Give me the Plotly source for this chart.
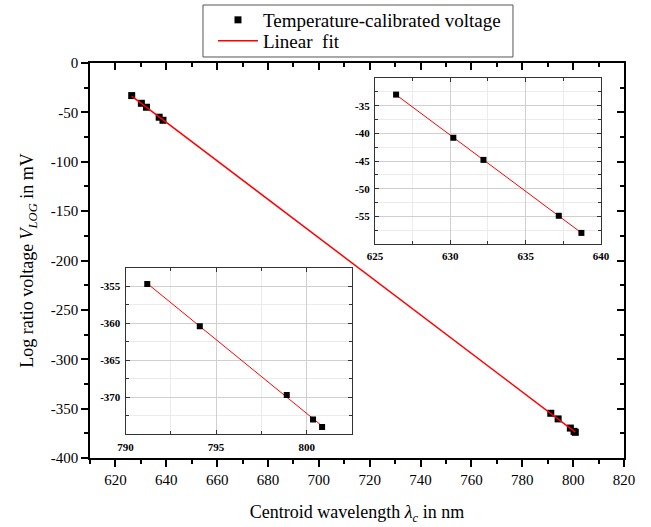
import numpy as np
import plotly.graph_objects as go

# ---------------- data ----------------
wl_red = [626.4, 630.2, 632.2, 637.2, 638.7]
v_red = [-33.0, -40.8, -44.8, -54.9, -58.0]
wl_nir = [791.2, 794.1, 798.9, 800.35, 800.85]
v_nir = [-354.7, -360.4, -369.7, -373.0, -374.0]

main_xticks = [620, 640, 660, 680, 700, 720, 740, 760, 780, 800, 820]
main_yticks = [0, -50, -100, -150, -200, -250, -300, -350, -400]
main_ytext = ["0", "-50", "-100", "-150", "-200", "-250", "-300", "-350", "-400"]
in1_xticks = [625, 630, 635, 640]
in1_yticks = [-35, -40, -45, -50, -55]
in1_ytext = ["-35", "-40", "-45", "-50", "-55"]
in2_xticks = [790, 795, 800]
in2_yticks = [-355, -360, -365, -370]
in2_ytext = ["-355", "-360", "-365", "-370"]

legend_points = "Temperature-calibrated voltage"
legend_fit = "Linear  fit"

# ---------------- fits ----------------
wl_all = np.array(wl_red + wl_nir)
v_all = np.array(v_red + v_nir)
p_all = np.polyfit(wl_all, v_all, 1)
p_red = np.polyfit(wl_red, v_red, 1)
p_nir = np.polyfit(wl_nir, v_nir, 1)
fx_all = np.array([wl_all.min(), wl_all.max()])
fx_red = np.array([min(wl_red), max(wl_red)])
fx_nir = np.array([min(wl_nir), max(wl_nir)])

SERIF = "Liberation Serif, Times New Roman, serif"
RED = "#ff0000"

fig = go.Figure()

# main plot
fig.add_trace(go.Scatter(x=wl_all, y=v_all, mode="markers",
                         marker=dict(symbol="square", size=7, color="black"),
                         name=legend_points, legend="legend",
                         xaxis="x", yaxis="y"))
fig.add_trace(go.Scatter(x=fx_all, y=np.polyval(p_all, fx_all), mode="lines",
                         line=dict(color=RED, width=1.5), name=legend_fit,
                         legend="legend2", xaxis="x", yaxis="y"))

# inset 1
fig.add_trace(go.Scatter(x=fx_red, y=np.polyval(p_red, fx_red), mode="lines",
                         line=dict(color=RED, width=1), showlegend=False,
                         xaxis="x2", yaxis="y2"))
fig.add_trace(go.Scatter(x=wl_red, y=v_red, mode="markers",
                         marker=dict(symbol="square", size=6, color="black"),
                         showlegend=False, xaxis="x2", yaxis="y2"))
# inset 2
fig.add_trace(go.Scatter(x=fx_nir, y=np.polyval(p_nir, fx_nir), mode="lines",
                         line=dict(color=RED, width=1), showlegend=False,
                         xaxis="x3", yaxis="y3"))
fig.add_trace(go.Scatter(x=wl_nir, y=v_nir, mode="markers",
                         marker=dict(symbol="square", size=6, color="black"),
                         showlegend=False, xaxis="x3", yaxis="y3"))

# dummy traces for mirrored inward tick axes
fig.add_trace(go.Scatter(x=[], y=[], showlegend=False, xaxis="x4", yaxis="y"))
fig.add_trace(go.Scatter(x=[], y=[], showlegend=False, xaxis="x", yaxis="y4"))

main_tickfont = dict(family=SERIF, size=15, color="black")
inset_tickfont = dict(family=SERIF, size=11, color="black", weight="bold")

main_x = dict(range=[610, 820], tickvals=main_xticks, ticks="outside", ticklen=7,
              tickwidth=1.5, tickcolor="black", showline=True, linewidth=1.5,
              linecolor="black", mirror=True, showgrid=False, zeroline=False,
              tickfont=main_tickfont,
              minor=dict(dtick=10, tick0=610, ticks="outside", ticklen=4,
                         tickwidth=1.5, tickcolor="black", showgrid=False))
main_y = dict(range=[-400, 0], tickvals=main_yticks, ticktext=main_ytext,
              ticks="outside", ticklen=7, tickwidth=1.5, tickcolor="black",
              showline=True, linewidth=1.5, linecolor="black", mirror=True,
              showgrid=False, zeroline=False, tickfont=main_tickfont,
              minor=dict(dtick=25, tick0=0, ticks="outside", ticklen=4,
                         tickwidth=1.5, tickcolor="black", showgrid=False))

def inset_axis(rng, tickvals, ticktext, dom, anchor, tick0):
    d = dict(range=rng, tickvals=tickvals, domain=dom, anchor=anchor,
             ticks="inside", ticklen=4, tickwidth=1, tickcolor="#333333",
             showline=True, linewidth=1, linecolor="#333333", mirror="ticks",
             showgrid=True, gridcolor="#cfcfcf", gridwidth=1, zeroline=False,
             tickfont=inset_tickfont, ticklabelstandoff=2,
             minor=dict(dtick=2.5, tick0=tick0, ticks="inside", ticklen=3,
                        tickwidth=1, tickcolor="#333333", showgrid=True,
                        gridcolor="#ebebeb", gridwidth=1))
    if ticktext is not None:
        d["ticktext"] = ticktext
    return d

leg_common = dict(xanchor="left", yanchor="top", bgcolor="rgba(0,0,0,0)",
                  borderwidth=0, font=dict(family=SERIF, size=19, color="black"),
                  itemwidth=40)

fig.update_layout(
    width=651, height=527,
    margin=dict(l=90, r=27, t=63, b=69, autoexpand=False),
    font=dict(family=SERIF, color="black"),
    paper_bgcolor="white", plot_bgcolor="white",
    xaxis=dict(**main_x, domain=[0, 1], anchor="y",
               title=dict(text="Centroid wavelength <i>λ</i><sub><i>c</i></sub> in nm",
                          font=dict(family=SERIF, size=18, color="black"),
                          standoff=19)),
    yaxis=dict(**main_y, domain=[0, 1], anchor="x",
               title=dict(text="Log ratio voltage <i>V</i><sub><i>LOG</i></sub> in mV",
                          font=dict(family=SERIF, size=18, color="black"),
                          standoff=12)),
    xaxis4=dict(range=[610, 820], overlaying="x", anchor="y", side="top",
                tickvals=main_xticks, ticks="inside", ticklen=7, tickwidth=1.5,
                tickcolor="black", showticklabels=False, showline=False,
                showgrid=False, zeroline=False,
                minor=dict(dtick=10, tick0=610, ticks="inside", ticklen=4,
                           tickwidth=1.5, tickcolor="black", showgrid=False)),
    yaxis4=dict(range=[-400, 0], overlaying="y", anchor="x", side="right",
                tickvals=main_yticks, ticks="inside", ticklen=7, tickwidth=1.5,
                tickcolor="black", showticklabels=False, showline=False,
                showgrid=False, zeroline=False,
                minor=dict(dtick=25, tick0=0, ticks="inside", ticklen=4,
                           tickwidth=1.5, tickcolor="black", showgrid=False)),
    xaxis2=inset_axis([625, 640], in1_xticks, None, [0.5337, 0.9569], "y2", 625),
    yaxis2=inset_axis([-60, -30], in1_yticks, in1_ytext, [0.5418, 0.962], "x2", -30),
    xaxis3=inset_axis([790, 802.5], in2_xticks, None, [0.0665, 0.4906], "y3", 790),
    yaxis3=inset_axis([-375, -352.5], in2_yticks, in2_ytext, [0.06, 0.4818], "x3", -352.5),
    legend=dict(x=0.2303, y=1.157, **leg_common),
    legend2=dict(x=0.2303, y=1.1038, **leg_common),
    showlegend=True,
    shapes=[dict(type="rect", xref="paper", yref="paper",
                 x0=0.2116, x1=0.7921, y0=1.0152, y1=1.1468,
                 line=dict(color="#555555", width=1), fillcolor="white",
                 layer="above")],
)

fig.write_html("out.html")
